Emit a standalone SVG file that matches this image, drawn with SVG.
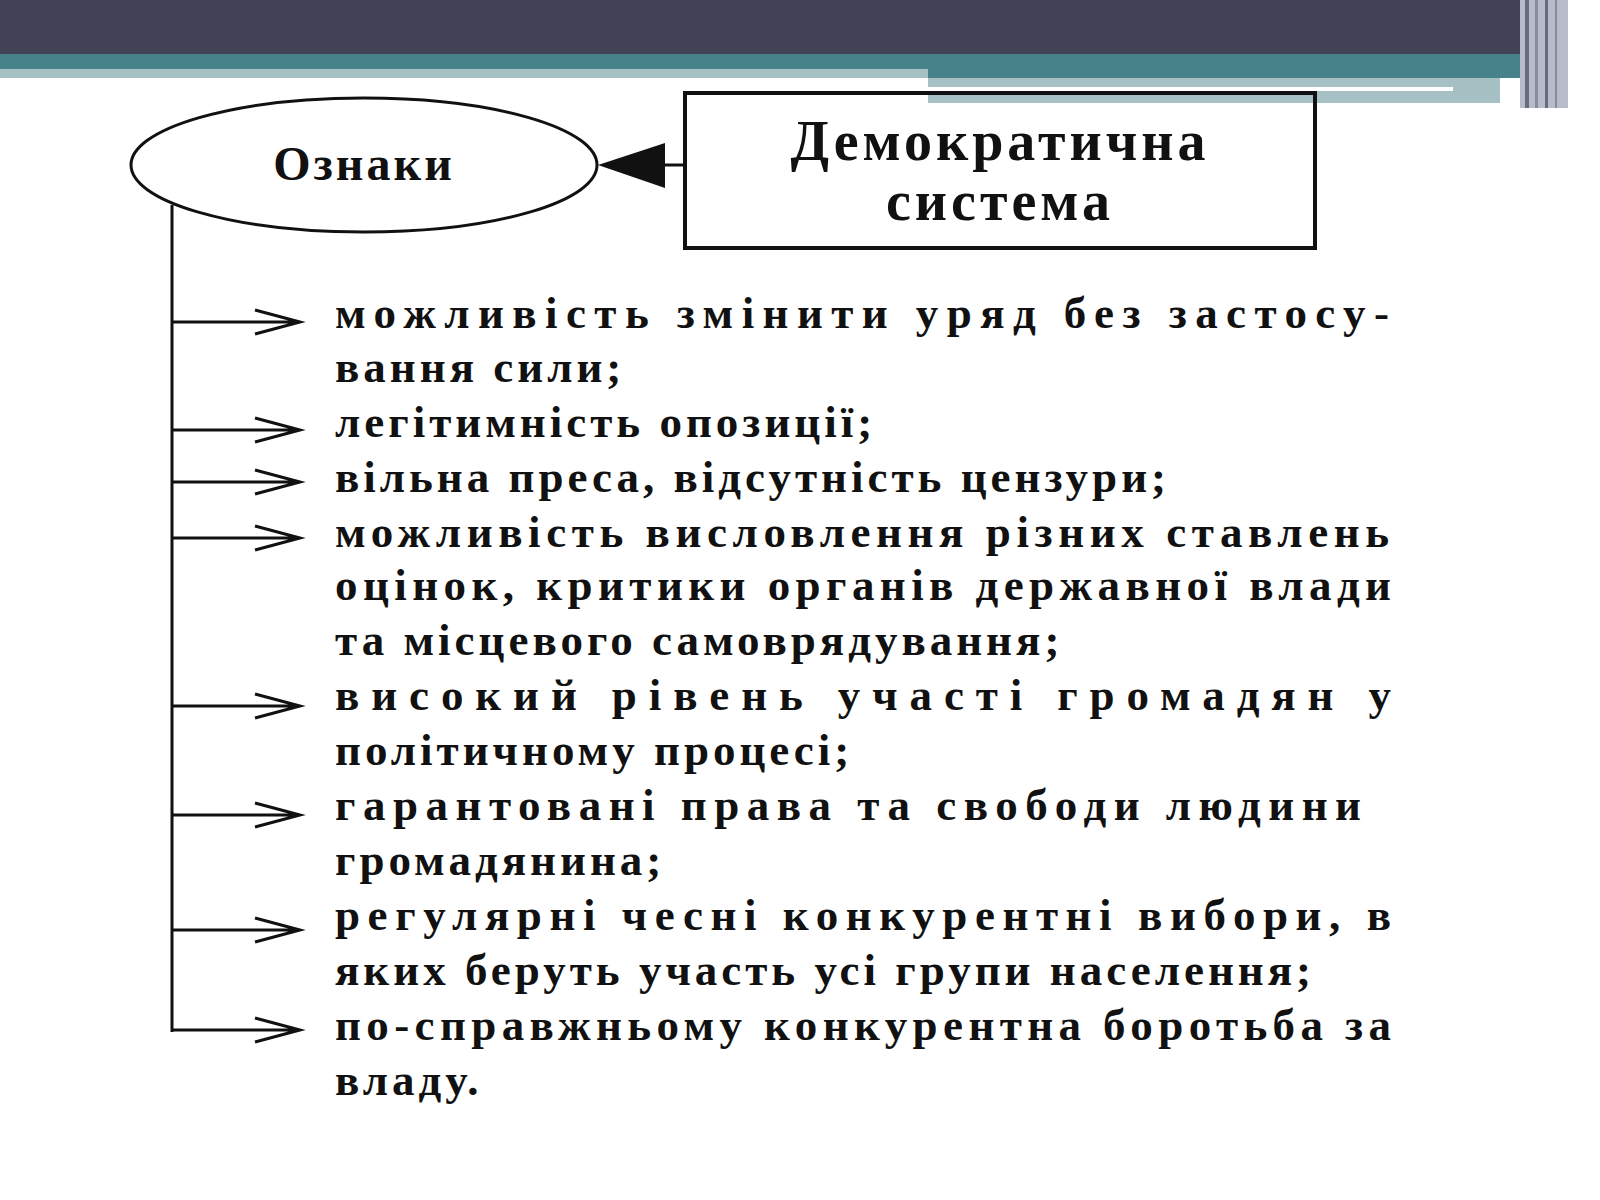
<svg xmlns="http://www.w3.org/2000/svg" width="1600" height="1200" viewBox="0 0 1600 1200">
<style>
.t{font-family:"Liberation Serif",serif;font-weight:bold;font-size:45px;fill:#111;letter-spacing:4px}
.c{stroke:#111;stroke-width:3;fill:none}
</style>
<rect width="1600" height="1200" fill="#fff"/>
<rect x="0" y="0" width="1520" height="54" fill="#424257"/>
<rect x="0" y="54" width="1520" height="24" fill="#47818a"/>
<rect x="0" y="69" width="928" height="9" fill="#a6c0c4"/>
<rect x="928" y="78" width="572" height="25" fill="#a6c0c4"/>
<rect x="928" y="87" width="525" height="4" fill="#fff"/>
<rect x="1520" y="0" width="48" height="108" fill="#b8bcc8"/>
<rect x="1525" y="0" width="4" height="108" fill="#6a6a80"/>
<rect x="1535" y="0" width="3" height="108" fill="#8a8aa0"/>
<rect x="1545" y="0" width="3" height="108" fill="#6a6a80"/>
<rect x="1555" y="0" width="2" height="108" fill="#8a8aa0"/>
<g id="oznaky">
<ellipse cx="364" cy="165" rx="233" ry="67" class="c"/>
<text x="364" y="180" text-anchor="middle" class="t" style="font-size:48px;letter-spacing:3px">Ознаки</text>
</g>
<g id="system">
<rect x="685" y="93" width="630" height="155" class="c" style="stroke-width:4"/>
<text x="1000" y="160" text-anchor="middle" class="t" style="font-size:56px;letter-spacing:4px">Демократична</text>
<text x="1000" y="220" text-anchor="middle" class="t" style="font-size:56px;letter-spacing:4px">система</text>
</g>
<g id="connectors">
<line x1="685" y1="165" x2="660" y2="165" class="c"/>
<polygon points="598,165 665,143 665,188" fill="#111"/>
<line x1="172" y1="205" x2="172" y2="1032" class="c"/>
<g fill="none" stroke="#111" stroke-width="3">
<path d="M172 322H300M255 310L300 322L255 334"/>
<path d="M172 430H300M255 418L300 430L255 442"/>
<path d="M172 482H300M255 470L300 482L255 494"/>
<path d="M172 538H300M255 526L300 538L255 550"/>
<path d="M172 706H300M255 694L300 706L255 718"/>
<path d="M172 815H300M255 803L300 815L255 827"/>
<path d="M172 930H300M255 918L300 930L255 942"/>
<path d="M172 1030H300M255 1018L300 1030L255 1042"/>
</g>
</g>
<g id="items" class="t">
<text x="335" y="328" textLength="1058" lengthAdjust="spacing">можливість змінити уряд без застосу-</text>
<text x="335" y="382">вання сили;</text>
<text x="335" y="437">легітимність опозиції;</text>
<text x="335" y="492">вільна преса, відсутність цензури;</text>
<text x="335" y="547" textLength="1058" lengthAdjust="spacing">можливість висловлення різних ставлень</text>
<text x="335" y="600" textLength="1060" lengthAdjust="spacing">оцінок, критики органів державної влади</text>
<text x="335" y="655">та місцевого самоврядування;</text>
<text x="335" y="710" textLength="1060" lengthAdjust="spacing">високий рівень участі громадян у</text>
<text x="335" y="765">політичному процесі;</text>
<text x="335" y="820" textLength="1030" lengthAdjust="spacing">гарантовані права та свободи людини</text>
<text x="335" y="875">громадянина;</text>
<text x="335" y="930" textLength="1060" lengthAdjust="spacing">регулярні чесні конкурентні вибори, в</text>
<text x="335" y="985">яких беруть участь усі групи населення;</text>
<text x="335" y="1040" textLength="1060" lengthAdjust="spacing">по-справжньому конкурентна боротьба за</text>
<text x="335" y="1095">владу.</text>
</g>
</svg>
